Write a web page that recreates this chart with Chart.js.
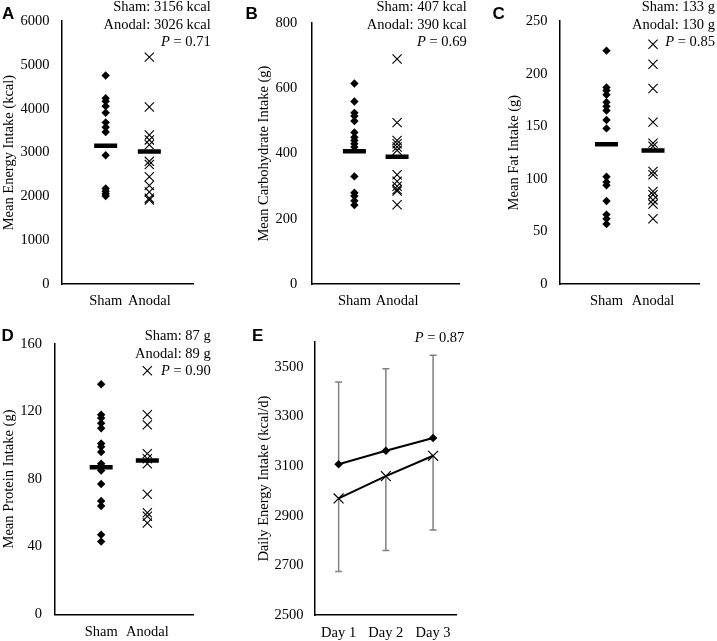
<!DOCTYPE html>
<html>
<head>
<meta charset="utf-8">
<script src="https://cdn.jsdelivr.net/npm/chart.js@4.4.0/dist/chart.umd.min.js"></script>
<style>
  body { margin: 0; background: #fff; }
  #wrap { position: relative; width: 717px; height: 641px; overflow: hidden; font-family: 'Liberation Serif', 'Times New Roman', serif; color: #000; }
  canvas { position: absolute; }
  .letter { position: absolute; font: bold 17px 'Liberation Sans', Arial, sans-serif; line-height: 17px; }
  .note { position: absolute; text-align: right; font-size: 14.5px; line-height: 17.5px; white-space: nowrap; }
</style>
</head>
<body>
<div id="wrap">
  <canvas id="chartA" width="215" height="312" style="left:0px;top:0px"></canvas>
  <canvas id="chartB" width="220" height="312" style="left:255px;top:0px"></canvas>
  <canvas id="chartC" width="212" height="312" style="left:505px;top:0px"></canvas>
  <canvas id="chartD" width="215" height="319" style="left:0px;top:322px"></canvas>
  <canvas id="chartE" width="220" height="319" style="left:255px;top:322px"></canvas>

  <div class="letter" style="left:2px;top:4.5px">A</div>
  <div class="letter" style="left:245.5px;top:4.5px">B</div>
  <div class="letter" style="left:492.5px;top:4.5px">C</div>
  <div class="letter" style="left:1.5px;top:327px">D</div>
  <div class="letter" style="left:252px;top:327px">E</div>

  <div class="note" style="right:506.3px;top:-1.7px">Sham: 3156 kcal<br>Anodal: 3026 kcal<br><i>P</i> = 0.71</div>
  <div class="note" style="right:250.3px;top:-1.7px">Sham: 407 kcal<br>Anodal: 390 kcal<br><i>P</i> = 0.69</div>
  <div class="note" style="right:2px;top:-1.7px">Sham: 133 g<br>Anodal: 130 g<br><i>P</i> = 0.85</div>
  <div class="note" style="right:506.3px;top:327.3px">Sham: 87 g<br>Anodal: 89 g<br><i>P</i> = 0.90</div>
  <div class="note" style="right:252.7px;top:328.6px"><i>P</i> = 0.87</div>
</div>
<script>
// Groups and days
const groups = ['Sham', 'Anodal'];
const days = ['Day 1', 'Day 2', 'Day 3'];

// A - energy (kcal)
const energySham = [4760, 4240, 4170, 4060, 3910, 3690, 3580, 3470, 2940, 2180, 2120, 2060, 2010];
const energyAnodal = [5180, 4040, 3400, 3290, 3180, 2800, 2730, 2450, 2250, 2100, 1960, 1920];
const energyMeans = [3156, 3026];

// B - carbohydrate (g)
const carbSham = [615, 560, 525, 515, 500, 465, 450, 440, 430, 420, 330, 280, 270, 255, 242];
const carbAnodal = [690, 495, 440, 430, 420, 410, 335, 315, 300, 290, 285, 243];
const carbMeans = [407, 390];

// C - fat (g)
const fatSham = [222, 187, 184, 180, 173, 169, 165, 156, 148, 102, 97, 94, 79, 66, 62, 57];
const fatAnodal = [228, 209, 186, 154, 134, 131, 107, 104, 88, 85, 80, 76, 62];
const fatMeans = [133, 127];

// D - protein (g)
const proteinSham = [136, 118, 116, 113, 110, 101, 99, 96, 89, 85, 77, 67, 64, 47, 43];
const proteinAnodal = [144, 118, 112, 95, 92, 89, 71, 60, 58, 54];
const proteinMeans = [87, 91];

// E - daily energy (kcal/d)
const dailySham = [3108, 3162, 3214];
const dailyAnodal = [2970, 3060, 3142];
const shamSD = [332, 331, 333];
const anodalSD = [295, 300, 299];

document.addEventListener('DOMContentLoaded', function() {
    Chart.defaults.font.family = "'Liberation Serif', 'Times New Roman', serif";
    Chart.defaults.font.size = 14.5;
    Chart.defaults.color = '#000';

    // Common layout: fixes the plot area inside each canvas
    function layoutFor(box, area) {
        return {
            padding: { left: 0, top: area.t - box.top, right: box.left + box.w - area.r, bottom: 0 }
        };
    }

    function yAxis(box, area, min, max, step, title, pad) {
        return {
            type: 'linear',
            min: min,
            max: max,
            grid: { display: false, drawTicks: false },
            border: { display: true, color: '#000', width: 1.5 },
            ticks: { padding: pad, color: '#000', callback: v => String(v) },
            title: { display: true, text: title, padding: { top: 0, bottom: 0 }, color: '#000' },
            afterBuildTicks: axis => {
                const t = [];
                for (let v = min; v <= max + 1e-9; v += step) t.push({ value: v });
                axis.ticks = t;
            },
            afterFit: s => { s.width = area.l - box.left; }
        };
    }

    // Dot plots A-D
    function dotPanel(id, sham, anodal, means, yMax, step, title, box, area, opts) {
        new Chart(document.getElementById(id).getContext('2d'), {
            type: 'scatter',
            data: {
                datasets: [
                    {
                        data: means.map((m, i) => ({ x: i + 1, y: m })),
                        pointStyle: 'line',
                        radius: 11.5,
                        borderWidth: 4.5,
                        borderColor: '#000'
                    },
                    {
                        data: anodal.map(v => ({ x: 2, y: v })),
                        pointStyle: 'crossRot',
                        radius: 6.5,
                        borderWidth: 1.1,
                        borderColor: '#000'
                    },
                    {
                        data: sham.map(v => ({ x: 1, y: v })),
                        pointStyle: 'rectRot',
                        radius: 4.2,
                        borderWidth: 0,
                        backgroundColor: '#000'
                    }
                ]
            },
            options: {
                responsive: false,
                animation: false,
                events: [],
                layout: layoutFor(box, area),
                plugins: { legend: { display: false }, tooltip: { enabled: false } },
                scales: {
                    x: {
                        type: 'linear',
                        min: 0,
                        max: opts.xMax || 3,
                        grid: { display: false, drawTicks: false },
                        border: { display: true, color: '#000', width: 1.5 },
                        ticks: {
                            padding: opts.xPad,
                            maxRotation: 0,
                            autoSkip: false,
                            color: '#000',
                            callback: v => groups[v - 1]
                        },
                        afterBuildTicks: axis => { axis.ticks = [{ value: 1 }, { value: 2 }]; },
                        afterFit: s => { s.height = box.top + box.h - area.b; }
                    },
                    y: yAxis(box, area, 0, yMax, step, title, opts.yPad)
                }
            }
        });
    }

    dotPanel('chartA', energySham, energyAnodal, energyMeans, 6000, 1000, 'Mean Energy Intake (kcal)',
        { left: 0, top: 0, w: 215, h: 312 }, { l: 62, t: 12.7, r: 193, b: 284 }, { xPad: 8, yPad: 12.5 });
    dotPanel('chartB', carbSham, carbAnodal, carbMeans, 800, 200, 'Mean Carbohydrate Intake (g)',
        { left: 255, top: 0, w: 220, h: 312 }, { l: 311.7, t: 12.7, r: 471, b: 284 }, { xPad: 8, yPad: 14.5, xMax: 3.45 });
    dotPanel('chartC', fatSham, fatAnodal, fatMeans, 250, 50, 'Mean Fat Intake (g)',
        { left: 505, top: 0, w: 212, h: 312 }, { l: 560, t: 12.7, r: 699.5, b: 284 }, { xPad: 8, yPad: 12.5 });
    dotPanel('chartD', proteinSham, proteinAnodal, proteinMeans, 160, 40, 'Mean Protein Intake (g)',
        { left: 0, top: 322, w: 215, h: 319 }, { l: 55, t: 342.7, r: 193.5, b: 614.3 }, { xPad: 9, yPad: 13 });

    // E - daily intake with error bars
    const errorBars = {
        id: 'errorBars',
        beforeDatasetsDraw(chart) {
            const ctx = chart.ctx, xs = chart.scales.x, ys = chart.scales.y;
            function whisker(px, v0, v1) {
                const y0 = ys.getPixelForValue(v0), y1 = ys.getPixelForValue(v1);
                ctx.beginPath();
                ctx.moveTo(px, y0);
                ctx.lineTo(px, y1);
                ctx.moveTo(px - 3.5, y1);
                ctx.lineTo(px + 3.5, y1);
                ctx.stroke();
            }
            ctx.save();
            ctx.strokeStyle = '#808080';
            ctx.lineWidth = 1.5;
            days.forEach((d, i) => {
                const px = xs.getPixelForValue(i);
                whisker(px, dailySham[i], dailySham[i] + shamSD[i]);
                whisker(px, dailyAnodal[i], dailyAnodal[i] - anodalSD[i]);
            });
            ctx.restore();
        }
    };

    const boxE = { left: 255, top: 322, w: 220, h: 319 };
    const areaE = { l: 315, t: 341.7, r: 456.7, b: 615 };
    new Chart(document.getElementById('chartE').getContext('2d'), {
        type: 'line',
        data: {
            labels: days,
            datasets: [
                {
                    data: dailySham,
                    borderColor: '#000',
                    borderWidth: 2,
                    pointStyle: 'rectRot',
                    radius: 4.3,
                    pointBorderWidth: 0,
                    pointBackgroundColor: '#000'
                },
                {
                    data: dailyAnodal,
                    borderColor: '#000',
                    borderWidth: 2,
                    pointStyle: 'crossRot',
                    radius: 7,
                    pointBorderWidth: 1.2,
                    pointBorderColor: '#000'
                }
            ]
        },
        options: {
            responsive: false,
            animation: false,
            events: [],
            layout: layoutFor(boxE, areaE),
            plugins: { legend: { display: false }, tooltip: { enabled: false } },
            scales: {
                x: {
                    type: 'category',
                    offset: true,
                    grid: { display: false, drawTicks: false },
                    border: { display: true, color: '#000', width: 1.5 },
                    ticks: { padding: 9, maxRotation: 0, autoSkip: false, color: '#000' },
                    afterFit: s => { s.height = boxE.top + boxE.h - areaE.b; }
                },
                y: yAxis(boxE, areaE, 2500, 3600, 200, 'Daily Energy Intake (kcal/d)', 11.5)
            }
        },
        plugins: [errorBars]
    });
});
</script>
</body>
</html>
